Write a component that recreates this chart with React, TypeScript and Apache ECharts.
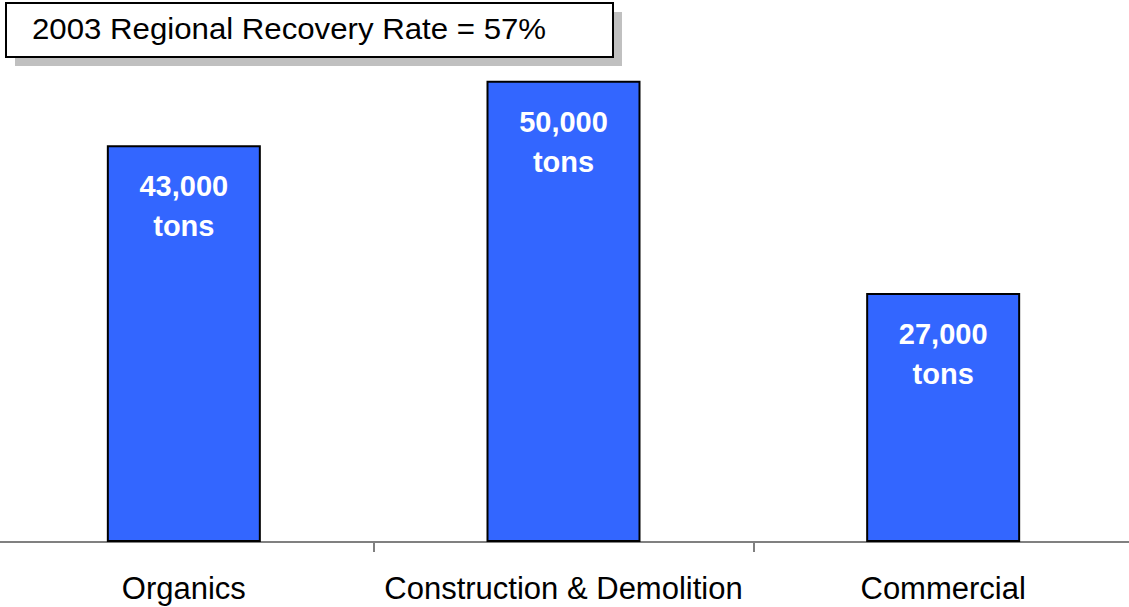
import React, { useEffect, useRef } from "react";
import * as echarts from "echarts";

const categories = ["Organics", "Construction & Demolition", "Commercial"];
const tons = [43000, 50000, 27000];
const titleText = "2003 Regional Recovery Rate = 57%";

const OFFSET = 6;

export default function App() {
  const ref = useRef<HTMLDivElement>(null);
  useEffect(() => {
    if (!ref.current) return;
    const chart = echarts.init(ref.current, undefined, { renderer: "svg" });
    chart.setOption({
      animation: false,
      grid: { left: 0, right: 0, top: 7, bottom: 65, containLabel: false },
      xAxis: {
        type: "category",
        data: categories,
        axisLine: { lineStyle: { color: "#808080", width: 2 } },
        axisTick: { show: true, length: 10, lineStyle: { color: "#808080", width: 2 } },
        axisLabel: {
          color: "#000",
          fontFamily: "Liberation Sans, Arial, sans-serif",
          fontSize: 31,
          margin: 31,
          interval: 0,
        },
      },
      yAxis: {
        type: "value",
        min: 0,
        max: 58000,
        show: false,
        splitLine: { show: false },
      },
      series: [
        {
          type: "bar",
          data: tons,
          barWidth: 154,
          itemStyle: { color: "#3366FF", borderColor: "#000", borderWidth: 2 },
          label: {
            show: true,
            position: "insideTop",
            distance: 21,
            color: "#fff",
            fontWeight: "bold",
            fontFamily: "Liberation Sans, Arial, sans-serif",
            fontSize: 29,
            lineHeight: 40,
            formatter: (p: any) => `${Number(p.value).toLocaleString("en-US")}\ntons`,
          },
        },
      ],
      graphic: [
        {
          type: "rect",
          shape: { x: 15 + OFFSET, y: 12, width: 607, height: 54 },
          style: { fill: "#c0c0c0" },
          z: 10,
        },
        {
          type: "rect",
          shape: { x: 6 + OFFSET, y: 3, width: 607, height: 54 },
          style: { fill: "#fff", stroke: "#000", lineWidth: 2 },
          z: 11,
        },
        {
          type: "text",
          x: 32 + OFFSET,
          y: 28,
          scaleX: 1.04,
          style: {
            text: titleText,
            fill: "#000",
            fontFamily: "Liberation Sans, Arial, sans-serif",
            fontSize: 30,
            verticalAlign: "middle",
            align: "left",
          },
          z: 12,
        },
      ],
    });
    return () => chart.dispose();
  }, []);
  return (
    <div style={{ position: "absolute", left: 0, top: 0, width: 1129, height: 607, overflow: "hidden" }}>
      <div
        ref={ref}
        style={{ position: "absolute", left: -OFFSET, top: 0, width: 1129 + OFFSET + 4, height: 607 }}
      />
    </div>
  );
}
